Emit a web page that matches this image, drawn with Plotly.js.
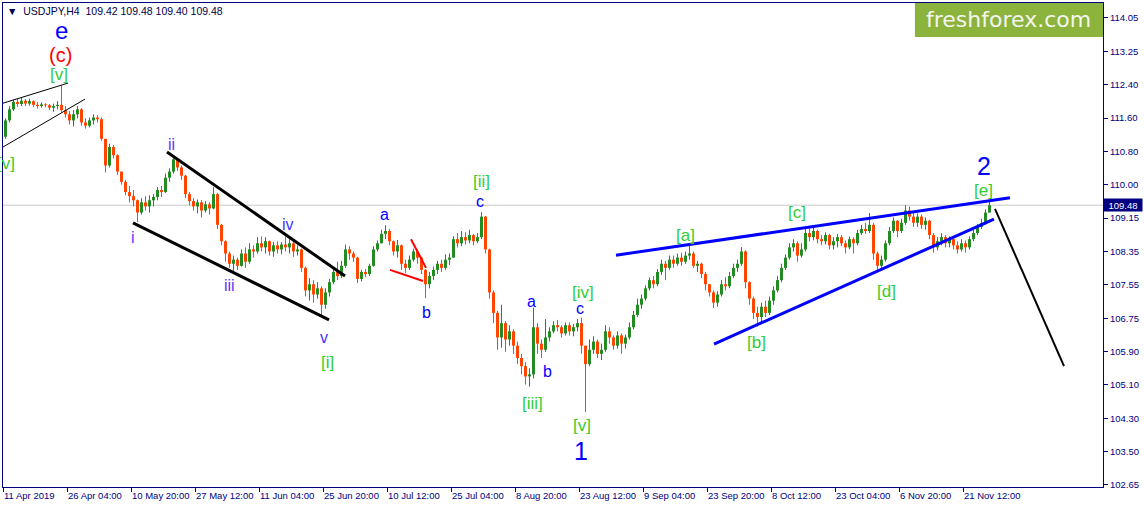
<!DOCTYPE html>
<html><head><meta charset="utf-8">
<script src="https://cdn.plot.ly/plotly-3.0.1.min.js"></script>
<style>html,body{margin:0;padding:0;background:#fff;overflow:hidden}#chart{width:1144px;height:508px}</style>
</head><body><div id="chart"></div>
<script>
// ---- data (USDJPY H4, candles grouped by 4 H4 bars) ----
const symbol = "USDJPY,H4";
const lastBarOHLC = ["109.42", "109.48", "109.40", "109.48"];
const lastPrice = 109.48;
const firstOpen = 111.15;
const closes = [
111.55,111.82,112.00,111.95,112.03,111.96,112.02,111.93,111.90,111.94,111.92,111.86,111.90,111.93,111.80,111.70,
111.55,111.70,111.82,111.50,111.42,111.55,111.62,111.58,111.10,110.45,110.90,110.70,110.30,110.05,109.80,109.70,
109.60,109.30,109.55,109.45,109.60,109.68,109.85,109.80,110.15,110.30,110.60,110.40,110.20,109.75,109.58,109.45,
109.55,109.35,109.50,109.40,109.75,109.00,108.60,108.30,108.05,108.15,108.00,108.30,108.10,108.40,108.35,108.55,
108.45,108.60,108.35,108.50,108.40,108.52,108.45,108.55,108.35,108.40,107.95,107.40,107.55,107.30,107.45,107.05,
107.35,107.60,107.85,107.75,108.00,108.40,108.30,108.20,107.68,107.85,107.80,108.00,108.40,108.55,108.78,108.85,
108.60,108.35,108.50,108.05,107.95,108.15,108.35,108.20,107.90,107.55,107.75,107.90,108.05,107.95,108.15,108.20,
108.65,108.55,108.70,108.62,108.75,108.60,108.70,109.20,108.40,107.35,106.85,106.25,106.60,106.20,106.40,106.05,
105.75,105.55,105.30,105.35,106.50,106.10,105.95,106.25,106.40,106.55,106.50,106.35,106.55,106.40,106.50,106.60,
106.05,105.60,105.95,106.15,105.85,105.95,106.40,106.25,106.05,106.30,106.10,106.25,106.50,106.80,107.05,107.20,
107.45,107.65,107.55,107.85,108.05,107.95,108.15,108.05,108.20,108.10,108.25,108.30,108.00,108.05,107.80,107.55,
107.35,107.10,107.30,107.55,107.50,107.75,107.95,108.05,108.35,107.60,107.20,106.85,106.75,107.00,106.85,107.15,
107.40,107.65,107.95,108.20,108.45,108.55,108.25,108.40,108.80,108.70,108.85,108.65,108.60,108.75,108.50,108.60,
108.70,108.55,108.45,108.65,108.55,108.80,108.90,108.85,109.00,108.30,108.00,108.15,108.55,108.85,109.10,108.85,
109.05,109.35,109.20,109.05,109.20,109.00,109.10,108.75,108.45,108.60,108.70,108.55,108.65,108.50,108.40,108.55,
108.45,108.65,108.80,108.95,109.05,109.30,109.48];
const highs = [
111.60,111.90,112.05,112.08,112.10,112.07,112.08,112.04,112.00,111.99,111.97,111.95,111.96,112.02,112.40,111.90,
111.78,111.80,111.90,111.85,111.60,111.62,111.70,111.68,111.62,111.10,110.98,110.95,110.72,110.30,110.10,109.95,
109.85,109.62,109.65,109.70,109.72,109.75,109.92,109.95,110.25,110.38,110.68,110.62,110.45,110.22,109.80,109.65,
109.62,109.60,109.58,109.55,109.92,109.78,109.02,108.62,108.35,108.25,108.20,108.40,108.45,108.55,108.50,108.70,
108.72,108.70,108.62,108.58,108.60,108.58,108.72,108.65,108.58,108.50,108.42,107.98,107.70,107.65,107.60,107.50,
107.45,107.68,107.95,108.10,108.12,108.52,108.48,108.35,108.22,107.90,107.92,108.05,108.48,108.62,108.88,108.99,
108.90,108.62,108.63,108.52,108.15,108.25,108.42,108.40,108.22,107.92,107.85,107.98,108.12,108.15,108.28,108.30,
108.72,108.80,108.85,108.82,108.88,108.78,108.80,109.31,109.22,108.42,107.40,106.90,107.05,106.65,106.55,106.45,
106.15,105.85,105.65,105.50,106.98,106.60,106.20,106.70,106.50,106.65,106.68,106.55,106.62,106.62,106.58,106.70,
106.73,106.05,106.20,106.28,106.20,106.10,106.55,106.50,106.30,106.40,106.35,106.32,106.62,106.90,107.20,107.30,
107.52,107.72,107.75,107.92,108.15,108.12,108.25,108.25,108.30,108.32,108.35,108.51,108.35,108.12,108.08,107.85,
107.55,107.40,107.38,107.65,107.72,107.85,108.05,108.15,108.46,108.38,107.62,107.25,107.00,107.10,107.15,107.25,
107.50,107.75,108.05,108.28,108.55,108.65,108.60,108.55,108.95,108.92,108.95,108.88,108.75,108.82,108.78,108.70,
108.78,108.75,108.62,108.72,108.70,108.88,109.00,109.05,109.29,109.05,108.35,108.25,108.62,108.95,109.18,109.12,
109.15,109.48,109.45,109.30,109.28,109.25,109.18,109.12,108.80,108.70,108.80,108.75,108.72,108.68,108.60,108.65,
108.62,108.72,108.88,109.02,109.15,109.38,109.58];
const lows = [
111.10,111.50,111.78,111.88,111.90,111.90,111.91,111.88,111.84,111.86,111.87,111.80,111.76,111.82,111.76,111.62,
111.45,111.40,111.60,111.42,111.35,111.38,111.45,111.50,111.05,110.28,110.40,110.62,110.22,109.98,109.72,109.55,
109.45,109.07,109.25,109.35,109.30,109.45,109.60,109.68,109.78,110.05,110.25,110.32,110.10,109.65,109.48,109.35,
109.28,109.18,109.30,109.25,109.38,108.90,108.50,108.10,107.95,107.82,107.90,107.98,107.95,108.05,108.20,108.30,
108.35,108.30,108.25,108.22,108.30,108.28,108.35,108.30,108.22,108.25,107.85,107.25,107.15,107.10,107.20,106.80,
106.95,107.25,107.55,107.65,107.70,107.95,108.15,108.10,107.58,107.62,107.72,107.75,107.98,108.35,108.55,108.65,
108.50,108.25,108.20,107.90,107.82,107.90,108.10,108.05,107.80,107.21,107.45,107.65,107.80,107.85,107.90,108.02,
108.20,108.45,108.48,108.52,108.55,108.50,108.55,108.65,108.30,107.20,106.60,105.95,106.00,105.90,106.05,105.85,
105.60,105.35,105.10,105.05,105.25,105.85,105.75,105.90,106.15,106.35,106.40,106.25,106.30,106.30,106.28,106.40,
105.85,104.43,105.55,105.85,105.75,105.70,105.90,106.10,105.95,105.98,105.85,105.98,106.20,106.45,106.75,106.95,
107.15,107.40,107.45,107.50,107.78,107.65,107.90,107.95,108.00,108.00,108.05,108.15,107.95,107.85,107.70,107.40,
107.25,106.97,107.00,107.25,107.40,107.45,107.70,107.85,108.00,107.45,107.05,106.70,106.51,106.60,106.75,106.80,
107.05,107.35,107.60,107.90,108.15,108.35,108.10,108.20,108.35,108.60,108.62,108.55,108.50,108.52,108.40,108.40,
108.45,108.48,108.30,108.40,108.30,108.50,108.75,108.78,108.80,108.15,107.90,107.95,108.10,108.50,108.80,108.70,
108.80,109.00,109.10,108.95,108.95,108.90,108.88,108.65,108.32,108.38,108.50,108.45,108.45,108.40,108.30,108.35,
108.32,108.40,108.60,108.75,108.90,109.00,109.30];
const dateLabels = ["11 Apr 2019","26 Apr 04:00","10 May 20:00","27 May 12:00","11 Jun 04:00","25 Jun 20:00",
  "10 Jul 12:00","25 Jul 04:00","8 Aug 20:00","23 Aug 12:00","9 Sep 04:00","23 Sep 20:00","8 Oct 12:00",
  "23 Oct 04:00","6 Nov 20:00","21 Nov 12:00"];
const priceLabels = ["114.05","113.25","112.40","111.60","110.80","110.00","109.15","108.35","107.55",
  "106.75","105.90","105.10","104.30","103.50","102.65"];
const h4PerCandle = 4;      // H4 bars grouped into each drawn candle
const h4PerDateLabel = 64;  // H4 bars between date labels

// ---- build candles through the axes ----
const UP = "#228b22", DOWN = "#ff4500";
const up = {wx: [], wy: [], bx: [], by: []}, dn = {wx: [], wy: [], bx: [], by: []};
closes.forEach((c, k) => {
  const o = k === 0 ? firstOpen : closes[k - 1];
  const x = k * h4PerCandle + 2.5;
  const g = c >= o ? up : dn;
  g.wx.push(x, x, null); g.wy.push(lows[k], highs[k], null);
  g.bx.push(x, x, null); g.by.push(o, c, null);
});
const seg = (xs, ys, color, w) => ({type: "scatter", mode: "lines", x: xs, y: ys,
  line: {color: color, width: w}, hoverinfo: "skip", showlegend: false});
const traces = [
  seg(up.wx, up.wy, UP, 1), seg(up.bx, up.by, UP, 3),
  seg(dn.wx, dn.wy, DOWN, 1), seg(dn.bx, dn.by, DOWN, 3)
];

// ---- analysis drawings (bar index, price) ----
const trendLines = [
  {p: [0, 111.97, 65, 112.46], c: "#000000", w: 1},
  {p: [0, 110.90, 82, 112.07], c: "#000000", w: 1},
  {p: [164, 110.78, 342, 107.75], c: "#000000", w: 3},
  {p: [130, 109.05, 326, 106.68], c: "#000000", w: 3},
  {p: [387, 107.90, 420, 107.63], c: "#ff0000", w: 2},
  {p: [408, 108.65, 423, 107.95], c: "#ff0000", w: 2},
  {p: [613, 108.26, 1007, 109.66], c: "#0000ff", w: 3},
  {p: [711, 106.09, 991, 109.14], c: "#0000ff", w: 3},
  {p: [992, 109.39, 1061, 105.55], c: "#000000", w: 2}
];
const BLUE = "#0000ff", GREEN = "#32cd32", RED = "#ff0000", VIO = "#6633ff", VIO2 = "#4433ff";
const waveLabels = [
  ["e", 58, 113.75, BLUE, 24], ["(c)", 57, 113.14, RED, 20], ["[v]", 56, 112.67, GREEN, 17],
  ["[v]", 3, 110.51, GREEN, 17],
  ["i", 130, 108.70, VIO, 16], ["ii", 168, 110.95, VIO, 16], ["iii", 226, 107.51, VIO, 16],
  ["iv", 285, 109.02, VIO2, 16], ["v", 321, 106.26, VIO2, 16], ["[i]", 324, 105.65, GREEN, 17],
  ["a", 381, 109.26, BLUE, 16], ["b", 423, 106.87, BLUE, 16], ["c", 477, 109.58, BLUE, 16],
  ["[ii]", 478, 110.05, GREEN, 17],
  ["a", 528, 107.12, BLUE, 16], ["b", 544, 105.43, BLUE, 16], ["[iii]", 529, 104.65, GREEN, 17],
  ["[iv]", 580, 107.34, GREEN, 17], ["c", 577, 106.95, BLUE, 16], ["[v]", 579, 104.11, GREEN, 17],
  ["1", 578, 103.48, BLUE, 25],
  ["[a]", 682, 108.73, GREEN, 17], ["[b]", 753, 106.14, GREEN, 17], ["[c]", 794, 109.29, GREEN, 17],
  ["[d]", 883, 107.38, GREEN, 17], ["[e]", 980, 109.83, GREEN, 17], ["2", 981, 110.44, BLUE, 25]
];

const NAVY = "#000080";
const shapes = [
  {type: "line", xref: "paper", x0: 0, x1: 1, yref: "y", y0: lastPrice, y1: lastPrice,
   line: {color: "#c8c8c8", width: 1}, layer: "below"},
  {type: "rect", xref: "paper", yref: "paper", x0: 0.829, x1: 1, y0: 0.9298, y1: 1,
   fillcolor: "#8cb43c", line: {width: 0}}
].concat(trendLines.map(t => ({type: "line", xref: "x", yref: "y",
  x0: t.p[0], y0: t.p[1], x1: t.p[2], y1: t.p[3], line: {color: t.c, width: t.w}})));

const annotations = waveLabels.map(l => ({text: l[0], x: l[1], y: l[2], xref: "x", yref: "y",
  showarrow: false, xanchor: "center", yanchor: "middle", borderpad: 0,
  font: {family: "Liberation Sans, Arial, sans-serif", size: l[4], color: l[3]}}));
annotations.push(
  {text: "\u25BC\u00a0\u00a0" + symbol + "\u00a0\u00a0" + lastBarOHLC.join("\u00a0"),
   xref: "paper", yref: "paper", x: 0.002, y: 0.9835, xanchor: "left", yanchor: "middle",
   showarrow: false, font: {family: "Liberation Sans, DejaVu Sans, sans-serif", size: 10.5, color: "#00004a"}},
  {text: "freshforex.com", xref: "paper", yref: "paper", x: 0.9145, y: 0.9649,
   xanchor: "center", yanchor: "middle", showarrow: false,
   font: {family: "DejaVu Sans, sans-serif", size: 22, color: "#f4f4f0"}},
  {text: lastPrice.toFixed(2), xref: "paper", yref: "y", x: 1, y: lastPrice, xanchor: "left",
   yanchor: "middle", showarrow: false, bgcolor: NAVY, width: 38, height: 12, borderpad: 0,
   font: {family: "Liberation Sans, Arial, sans-serif", size: 9.5, color: "#ffffff"}}
);

const yTop = 114.05, yBot = 102.65;
const tickVals = priceLabels.map((_, j) => yTop + (yBot - yTop) * j / (priceLabels.length - 1));

const layout = {
  width: 1144, height: 508,
  margin: {l: 3, r: 41, t: 3, b: 21, pad: 0},
  paper_bgcolor: "#ffffff", plot_bgcolor: "#ffffff",
  showlegend: false,
  xaxis: {range: [0, 1100], fixedrange: true, showgrid: false, zeroline: false,
    showline: true, mirror: true, linecolor: NAVY, linewidth: 1,
    tickmode: "array", tickvals: dateLabels.map((_, i) => i * h4PerDateLabel), ticktext: dateLabels,
    ticks: "outside", ticklen: 4, tickcolor: NAVY, ticklabelposition: "outside right", tickangle: 0,
    tickfont: {family: "Liberation Sans, Arial, sans-serif", size: 9.5, color: NAVY}, automargin: false},
  yaxis: {range: [102.60, 114.416], fixedrange: true, side: "right", showgrid: false, zeroline: false,
    showline: true, mirror: true, linecolor: NAVY, linewidth: 1,
    tickmode: "array", tickvals: tickVals, ticktext: priceLabels,
    ticks: "outside", ticklen: 4, tickcolor: NAVY,
    tickfont: {family: "Liberation Sans, Arial, sans-serif", size: 9.5, color: NAVY}, automargin: false},
  shapes: shapes,
  annotations: annotations
};
Plotly.newPlot("chart", traces, layout, {staticPlot: true, displayModeBar: false});
</script>
</body></html>
